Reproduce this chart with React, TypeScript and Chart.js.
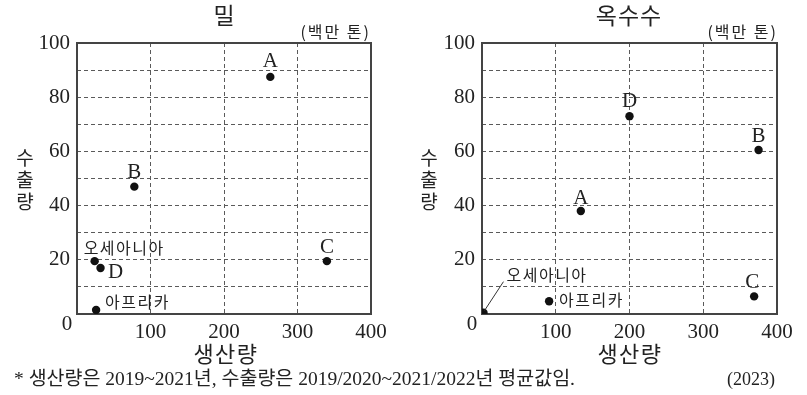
import React, { useEffect, useRef } from 'react';
import { Chart, registerables } from 'chart.js';

Chart.register(...registerables);

// ---------- data ----------
const xTickValues = [0, 100, 200, 300, 400];
const yTickValues = [0, 20, 40, 60, 80, 100];

const wheatNames = ['A', 'B', 'C', 'D', '오세아니아', '아프리카'];
const wheatProduction = [263, 78, 340, 32, 24, 26];
const wheatExport = [87.5, 47, 19.5, 17, 19.5, 1.5];

const cornNames = ['A', 'B', 'C', 'D', '오세아니아', '아프리카'];
const cornProduction = [134, 375, 369, 200, 2, 91];
const cornExport = [38, 60.5, 6.5, 73, 0.5, 4.7];

const chartTitles = ['밀', '옥수수'];
const unitText = '(백만 톤)';
const xAxisTitle = '생산량';
const yAxisTitle = '수출량';
const footnote = '* 생산량은 2019~2021년, 수출량은 2019/2020~2021/2022년 평균값임.';
const sourceYear = '(2023)';

// ---------- label placement (styling, not data) ----------
type Place = { dx: number; dy: number; align: CanvasTextAlign; leader?: [number, number] };

const wheatPlacement: Record<string, Place> = {
  A: { dx: 0, dy: -15, align: 'center' },
  B: { dx: 0, dy: -14, align: 'center' },
  C: { dx: 0, dy: -14, align: 'center' },
  D: { dx: 15, dy: 5, align: 'center' },
  '오세아니아': { dx: -11, dy: -13, align: 'left' },
  '아프리카': { dx: 9, dy: -8, align: 'left' },
};

const cornPlacement: Record<string, Place> = {
  A: { dx: 0, dy: -13, align: 'center' },
  B: { dx: 0, dy: -14, align: 'center' },
  C: { dx: -2, dy: -14, align: 'center' },
  D: { dx: 0, dy: -15, align: 'center' },
  '오세아니아': { dx: 23, dy: -38, align: 'left', leader: [20, -31] },
  '아프리카': { dx: 10, dy: -1, align: 'left' },
};

const SERIF = '"Liberation Serif", "Times New Roman", serif';
const KOR = '"Noto Sans CJK KR", "Noto Sans", sans-serif';
const INK = '#222';

const PLOT_LEFT = 77;
const PLOT_TOP = 43;
const PLOT_BOTTOM = 314;
const CANVAS_H = 395;

type ScatterProps = {
  names: string[];
  xs: number[];
  ys: number[];
  placement: Record<string, Place>;
  width: number;
  plotRight: number;
};

function ScatterPanel({ names, xs, ys, placement, width, plotRight }: ScatterProps) {
  const ref = useRef<HTMLCanvasElement>(null);

  useEffect(() => {
    const canvas = ref.current!;
    const labelPlugin = {
      id: 'panelDecor',
      beforeDatasetsDraw(chart: any) {
        const { ctx, chartArea } = chart;
        ctx.save();
        ctx.setLineDash([]);
        ctx.lineWidth = 2;
        ctx.strokeStyle = '#444';
        ctx.strokeRect(chartArea.left, chartArea.top, chartArea.right - chartArea.left, chartArea.bottom - chartArea.top);
        // shared origin label "0"
        ctx.fillStyle = INK;
        ctx.font = `21px ${SERIF}`;
        ctx.textAlign = 'center';
        ctx.textBaseline = 'middle';
        ctx.fillText(String(xTickValues[0]), chartArea.left - 10, chartArea.bottom + 10);
        ctx.restore();
      },
      afterDatasetsDraw(chart: any) {
        const { ctx } = chart;
        const meta = chart.getDatasetMeta(0);
        ctx.save();
        meta.data.forEach((el: any, i: number) => {
          const name = names[i];
          const p = placement[name];
          if (!p) return;
          const isLetter = /^[A-Z]$/.test(name);
          if (p.leader) {
            ctx.beginPath();
            ctx.lineWidth = 1;
            ctx.strokeStyle = '#333';
            ctx.moveTo(el.x + 1, el.y - 2);
            ctx.lineTo(el.x + p.leader[0], el.y + p.leader[1]);
            ctx.stroke();
          }
          ctx.fillStyle = INK;
          ctx.font = isLetter ? `21px ${SERIF}` : `16px ${KOR}`;
          (ctx as any).letterSpacing = isLetter ? '0px' : '1.5px';
          ctx.textAlign = p.align;
          ctx.textBaseline = 'middle';
          ctx.fillText(name, el.x + p.dx, el.y + p.dy);
        });
        ctx.restore();
      },
    };

    const chart = new Chart(canvas, {
      type: 'scatter',
      data: {
        datasets: [
          {
            data: xs.map((x, i) => ({ x, y: ys[i] })),
            pointRadius: 4.2,
            pointHoverRadius: 4.2,
            pointBackgroundColor: '#111',
            pointBorderColor: '#111',
            pointBorderWidth: 0,
          },
        ],
      },
      options: {
        responsive: false,
        animation: false,
        devicePixelRatio: 1,
        events: [],
        layout: { padding: { top: PLOT_TOP, right: width - plotRight, left: 0, bottom: 0 } },
        plugins: { legend: { display: false }, tooltip: { enabled: false }, title: { display: false } },
        scales: {
          x: {
            type: 'linear',
            min: xTickValues[0],
            max: xTickValues[xTickValues.length - 1],
            afterFit: (s: any) => {
              s.height = CANVAS_H - PLOT_BOTTOM;
            },
            ticks: {
              stepSize: 100,
              autoSkip: false,
              maxRotation: 0,
              padding: 6,
              color: INK,
              font: { family: SERIF, size: 21 },
              callback: (v: any) => (xTickValues.includes(v) && v !== 0 ? String(v) : ''),
            },
            grid: { color: '#5a5a5a', lineWidth: 1, drawTicks: false },
            border: { display: false, dash: [4, 3] },
          },
          y: {
            type: 'linear',
            min: yTickValues[0],
            max: yTickValues[yTickValues.length - 1],
            afterFit: (s: any) => {
              s.width = PLOT_LEFT;
            },
            ticks: {
              stepSize: 10,
              autoSkip: false,
              padding: 7,
              color: INK,
              font: { family: SERIF, size: 21 },
              callback: (v: any) => (yTickValues.includes(v) && v !== 0 ? String(v) : ''),
            },
            grid: { color: '#5a5a5a', lineWidth: 1, drawTicks: false },
            border: { display: false, dash: [4, 3] },
          },
        },
      },
      plugins: [labelPlugin],
    });
    return () => chart.destroy();
  }, []);

  return <canvas ref={ref} width={width} height={CANVAS_H} style={{ display: 'block', width, height: CANVAS_H }} />;
}

type TxtProps = {
  x: number;
  y: number;
  size: number;
  family?: string;
  align?: 'left' | 'center' | 'right';
  spacing?: number;
  children: React.ReactNode;
};

function Txt({ x, y, size, family = KOR, align = 'center', spacing = 0, children }: TxtProps) {
  const tx = align === 'center' ? '-50%' : align === 'right' ? '-100%' : '0';
  return (
    <div
      style={{
        position: 'absolute',
        left: x,
        top: y,
        transform: `translate(${tx}, -50%)`,
        fontSize: size,
        lineHeight: 1,
        whiteSpace: 'nowrap',
        fontFamily: family,
        letterSpacing: spacing,
        color: INK,
      }}
    >
      {children}
    </div>
  );
}

function VerticalTitle({ x, y }: { x: number; y: number }) {
  return (
    <div
      style={{
        position: 'absolute',
        left: x,
        top: y,
        transform: 'translate(-50%, -50%)',
        fontSize: 19,
        lineHeight: '22px',
        fontFamily: KOR,
        color: INK,
        textAlign: 'center',
        width: 24,
      }}
    >
      {yAxisTitle.split('').map((c, i) => (
        <div key={i}>{c}</div>
      ))}
    </div>
  );
}

export default function App() {
  const leftW = 400;
  const rightX = 405;
  const rightW = 402;
  const mixed = `"Liberation Serif", ${KOR}`;
  return (
    <div style={{ position: 'fixed', left: 0, top: 0, width: 807, height: 395, background: '#fff', overflow: 'hidden' }}>
      <div style={{ position: 'absolute', left: 0, top: 0 }}>
        <ScatterPanel names={wheatNames} xs={wheatProduction} ys={wheatExport} placement={wheatPlacement} width={leftW} plotRight={371} />
      </div>
      <div style={{ position: 'absolute', left: rightX, top: 0 }}>
        <ScatterPanel names={cornNames} xs={cornProduction} ys={cornExport} placement={cornPlacement} width={rightW} plotRight={372} />
      </div>

      <Txt x={224} y={14} size={23}>{chartTitles[0]}</Txt>
      <Txt x={629} y={14} size={23} spacing={1}>{chartTitles[1]}</Txt>
      <Txt x={371} y={31} size={16} align="right" spacing={2}>{unitText}</Txt>
      <Txt x={778} y={31} size={16} align="right" spacing={2}>{unitText}</Txt>

      <VerticalTitle x={25} y={179} />
      <VerticalTitle x={429} y={179} />

      <Txt x={226} y={352} size={22} spacing={1.5}>{xAxisTitle}</Txt>
      <Txt x={630} y={352} size={22} spacing={1.5}>{xAxisTitle}</Txt>

      <Txt x={14} y={379} size={19.5} family={mixed} align="left">{footnote}</Txt>
      <Txt x={775} y={379} size={18} family={SERIF} align="right">{sourceYear}</Txt>
    </div>
  );
}
